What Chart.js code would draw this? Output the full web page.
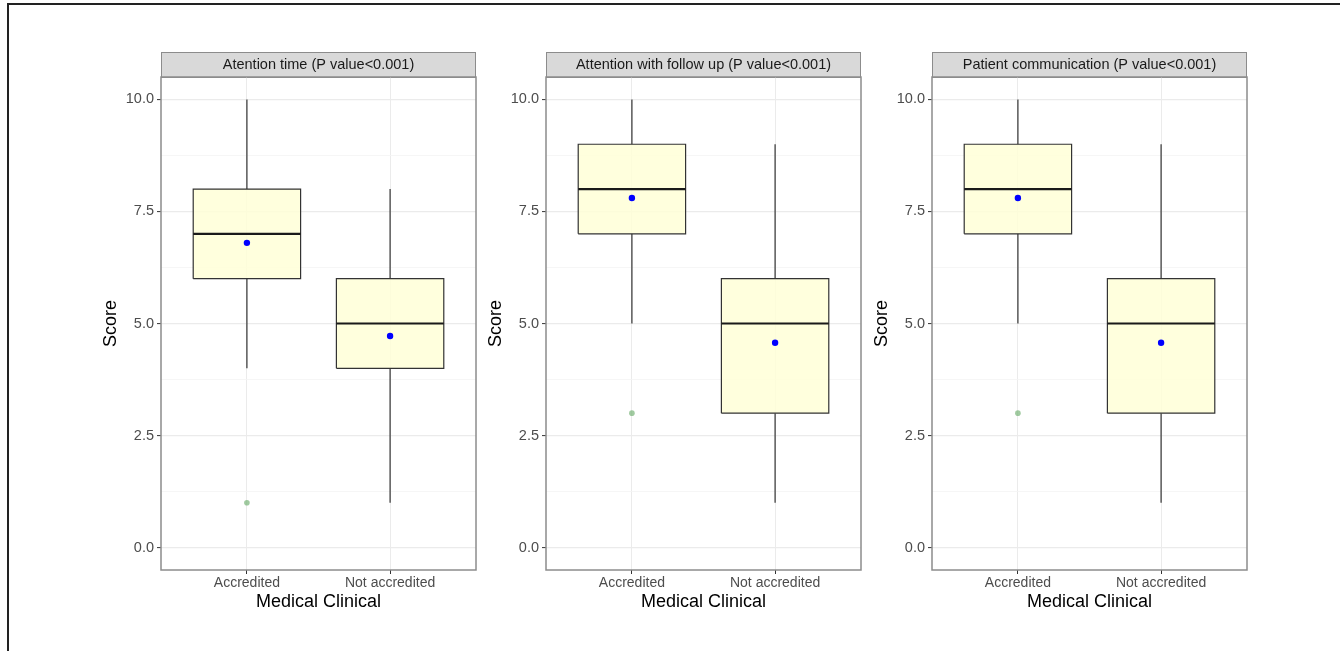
<!DOCTYPE html>
<html>
<head>
<meta charset="utf-8">
<script src="https://cdn.jsdelivr.net/npm/chart.js@4.4.1/dist/chart.umd.min.js"></script>
<style>
  body { margin: 0; background: #fff; width: 1340px; height: 651px; position: relative; overflow: hidden; }
  .frame-top { position: absolute; left: 7px; top: 3px; width: 1333px; height: 2px; background: #222; }
  .frame-left { position: absolute; left: 7px; top: 3px; width: 2px; height: 648px; background: #222; }
  .panel { position: absolute; top: 40px; width: 386px; height: 580px; }
</style>
</head>
<body>
<div class="frame-top"></div>
<div class="frame-left"></div>
<div class="panel" style="left:96px"><canvas id="c0"></canvas></div>
<div class="panel" style="left:481px"><canvas id="c1"></canvas></div>
<div class="panel" style="left:867px"><canvas id="c2"></canvas></div>
<script>
// data
const categories = ["Accredited", "Not accredited"];
const panelTitles = [
  "Atention time (P value<0.001)",
  "Attention with follow up (P value<0.001)",
  "Patient communication (P value<0.001)"
];
// per panel, per category
const whiskerLow  = [[4, 1], [5, 1], [5, 1]];
const boxLow      = [[6, 4], [7, 3], [7, 3]];
const medians     = [[7, 5], [8, 5], [8, 5]];
const boxHigh     = [[8, 6], [9, 6], [9, 6]];
const whiskerHigh = [[10, 8], [10, 9], [10, 9]];
const means       = [[6.8, 4.72], [7.8, 4.57], [7.8, 4.57]];
const outliers    = [[[1], []], [[3], []], [[3], []]];
const yTicks = [0, 2.5, 5, 7.5, 10];
const yMinor = [1.25, 3.75, 6.25, 8.75];

const HALF = 0.375; // half box width, in category units
const FONT = "'Liberation Sans', Arial, sans-serif";

// strip + panel border
const facetPlugin = {
  id: "facet",
  beforeDraw(chart, args, opts) {
    const a = chart.chartArea, ctx = chart.ctx;
    ctx.save();
    ctx.fillStyle = "#d9d9d9";
    ctx.fillRect(a.left, a.top - 25, a.right - a.left, 25);
    ctx.strokeStyle = "#8c8c8c";
    ctx.lineWidth = 1;
    ctx.strokeRect(a.left + 0.5, a.top - 24.5, a.right - a.left - 1, 25);
    ctx.fillStyle = "#1a1a1a";
    ctx.font = "14.5px " + FONT;
    ctx.textAlign = "center";
    ctx.textBaseline = "middle";
    ctx.fillText(opts.text, (a.left + a.right) / 2, a.top - 12);
    ctx.restore();
  },
  afterDraw(chart) {
    const a = chart.chartArea, ctx = chart.ctx;
    ctx.save();
    ctx.strokeStyle = "#8c8c8c";
    ctx.lineWidth = 1.5;
    ctx.strokeRect(a.left, a.top, a.right - a.left, a.bottom - a.top);
    ctx.restore();
  }
};

function makePanel(p) {
  const datasets = [];
  // means
  datasets.push({
    data: categories.map((c, i) => ({ x: i + 1, y: means[p][i] })),
    pointRadius: 3.2, pointBackgroundColor: "#0000ff", pointBorderWidth: 0,
    showLine: false, order: 0
  });
  // outliers
  const out = [];
  categories.forEach((c, i) => outliers[p][i].forEach(v => out.push({ x: i + 1, y: v })));
  datasets.push({
    data: out, pointRadius: 2.8, pointBackgroundColor: "rgba(120,180,120,0.7)",
    pointBorderWidth: 0, showLine: false, order: 1
  });
  // medians
  const med = [];
  categories.forEach((c, i) => {
    med.push({ x: i + 1 - HALF, y: medians[p][i] }, { x: i + 1 + HALF, y: medians[p][i] }, { x: i + 1, y: null });
  });
  datasets.push({
    data: med, showLine: true, spanGaps: false, borderColor: "#1a1a1a", borderWidth: 2.2,
    pointRadius: 0, order: 2
  });
  // boxes
  categories.forEach((c, i) => {
    const l = i + 1 - HALF, r = i + 1 + HALF;
    datasets.push({
      data: [{ x: l, y: boxLow[p][i] }, { x: r, y: boxLow[p][i] }, { x: r, y: boxHigh[p][i] },
             { x: l, y: boxHigh[p][i] }, { x: l, y: boxLow[p][i] }],
      showLine: true, fill: "shape", backgroundColor: "rgba(255,255,215,0.85)",
      borderColor: "#333333", borderWidth: 1.2, pointRadius: 0, tension: 0, order: 3
    });
  });
  // whiskers
  const wh = [];
  categories.forEach((c, i) => {
    wh.push({ x: i + 1, y: whiskerLow[p][i] }, { x: i + 1, y: boxLow[p][i] }, { x: i + 1, y: null },
            { x: i + 1, y: boxHigh[p][i] }, { x: i + 1, y: whiskerHigh[p][i] }, { x: i + 1, y: null });
  });
  datasets.push({
    data: wh, showLine: true, spanGaps: false, borderColor: "#333333", borderWidth: 1.2,
    pointRadius: 0, order: 4
  });

  new Chart(document.getElementById("c" + p), {
    type: "scatter",
    data: { datasets },
    plugins: [facetPlugin],
    options: {
      responsive: true, maintainAspectRatio: false, animation: false,
      layout: { padding: { top: 37, right: 6, left: 0, bottom: 0 } },
      plugins: { legend: { display: false }, tooltip: { enabled: false }, facet: { text: panelTitles[p] } },
      scales: {
        x: {
          type: "linear", min: 0.4, max: 2.6,
          afterBuildTicks: s => { s.ticks = categories.map((c, i) => ({ value: i + 1 })); },
          afterFit: s => { s.height = 50; },
          ticks: {
            callback: v => categories[v - 1] || "",
            color: "#4d4d4d", font: { family: FONT, size: 14 }, padding: 1, maxRotation: 0
          },
          grid: { color: "#ebebeb", lineWidth: 1, tickLength: 4, tickColor: "#333333", tickWidth: 1 },
          border: { display: false },
          title: { display: true, text: "Medical Clinical", color: "#000", font: { family: FONT, size: 18 }, padding: { top: 0, bottom: 7 } }
        },
        y: {
          min: -0.5, max: 10.5,
          afterBuildTicks: s => {
            s.ticks = yTicks.concat(yMinor).sort((a, b) => a - b).map(v => ({ value: v }));
          },
          afterFit: s => { s.width = 65; },
          ticks: {
            callback: v => yTicks.includes(v) ? v.toFixed(1) : "",
            color: "#4d4d4d", font: { family: FONT, size: 14.5 }, padding: 3
          },
          grid: {
            color: c => yTicks.includes(c.tick.value) ? "#ebebeb" : "#f4f4f4",
            lineWidth: c => yTicks.includes(c.tick.value) ? 1.2 : 0.8,
            tickLength: 4,
            tickColor: c => yTicks.includes(c.tick.value) ? "#333333" : "rgba(0,0,0,0)",
            tickWidth: 1
          },
          border: { display: false },
          title: { display: true, text: "Score", color: "#000", font: { family: FONT, size: 18 }, padding: { top: 4, bottom: 0 } }
        }
      }
    }
  });
}

[0, 1, 2].forEach(makePanel);
</script>
</body>
</html>
